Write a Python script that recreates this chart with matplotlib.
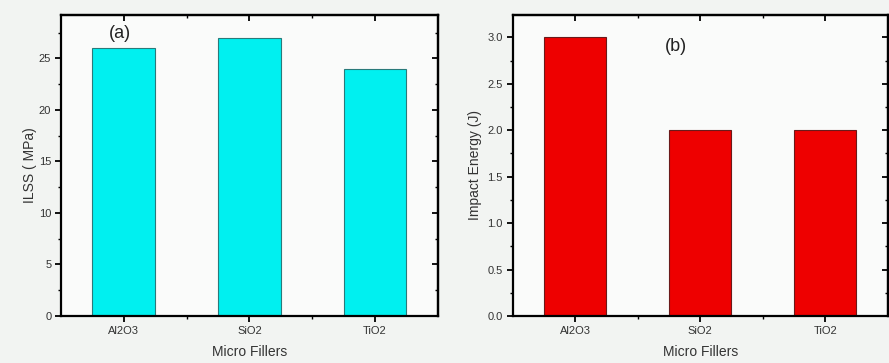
import matplotlib
matplotlib.use("Agg")
import matplotlib.pyplot as plt
import numpy as np

plt.rcParams["font.family"] = ["Liberation Sans", "DejaVu Sans"]

fillers = ["Al2O3", "SiO2", "TiO2"]
ilss = [26, 27, 24]
impact = [3.0, 2.0, 2.0]

fig = plt.figure(figsize=(8.89, 3.63), dpi=100, facecolor="#f2f4f2")
ax_a = fig.add_axes([0.0686, 0.1295, 0.4238, 0.8292])
ax_b = fig.add_axes([0.5767, 0.1295, 0.4218, 0.8292])

x = np.arange(1, len(fillers) + 1)


def style(ax, ymax, major, minor, fmt):
    ax.set_facecolor("#fafbfa")
    ax.set_xlim(0.5, 3.5)
    ax.set_ylim(0, ymax)
    ax.set_xticks(x)
    ax.set_xticklabels(fillers, fontsize=8, color="#333333")
    ax.set_xticks([1.5, 2.5], minor=True)
    yt = np.arange(0, ymax, major)
    ax.set_yticks(yt)
    ax.set_yticklabels([fmt.format(v) for v in yt], fontsize=8, color="#333333")
    ax.set_yticks(np.arange(0, ymax, minor), minor=True)
    for s in ax.spines.values():
        s.set_linewidth(1.6)
    ax.tick_params(which="major", direction="out", length=4, width=1.3, pad=3)
    ax.tick_params(which="minor", direction="out", length=2.5, width=1.0)
    # inward ticks on the top and right frame
    right = ax.secondary_yaxis("right")
    right.set_yticks(yt)
    right.set_yticks(np.arange(0, ymax, minor), minor=True)
    right.tick_params(which="major", direction="in", length=4, width=1.3, labelright=False)
    right.tick_params(which="minor", direction="in", length=2.5, width=1.0)
    right.spines["right"].set_linewidth(1.6)
    top = ax.secondary_xaxis("top")
    top.set_xticks(x)
    top.set_xticks([1.5, 2.5], minor=True)
    top.tick_params(which="major", direction="in", length=4, width=1.3, labeltop=False)
    top.tick_params(which="minor", direction="in", length=2.5, width=1.0)
    top.spines["top"].set_linewidth(1.6)
    ax.set_xlabel("Micro Fillers", fontsize=10, color="#333333", labelpad=7)


ax_a.bar(x, ilss, width=0.5, color="#00f0f0", edgecolor="#2a7a7a", linewidth=0.8)
style(ax_a, 29.2, 5, 2.5, "{:.0f}")
ax_a.set_ylabel("ILSS ( MPa)", fontsize=10, color="#333333", labelpad=1)
ax_a.text(0.97, 27.4, "(a)", fontsize=13, ha="center", va="center", color="#222222")

ax_b.bar(x, impact, width=0.5, color="#ee0000", edgecolor="#6a1a1a", linewidth=0.8)
style(ax_b, 3.24, 0.5, 0.25, "{:.1f}")
ax_b.set_ylabel("Impact Energy (J)", fontsize=10, color="#333333", labelpad=4)
ax_b.text(1.81, 2.9, "(b)", fontsize=13, ha="center", va="center", color="#222222")

fig.savefig("out.png", dpi=100, facecolor=fig.get_facecolor())
